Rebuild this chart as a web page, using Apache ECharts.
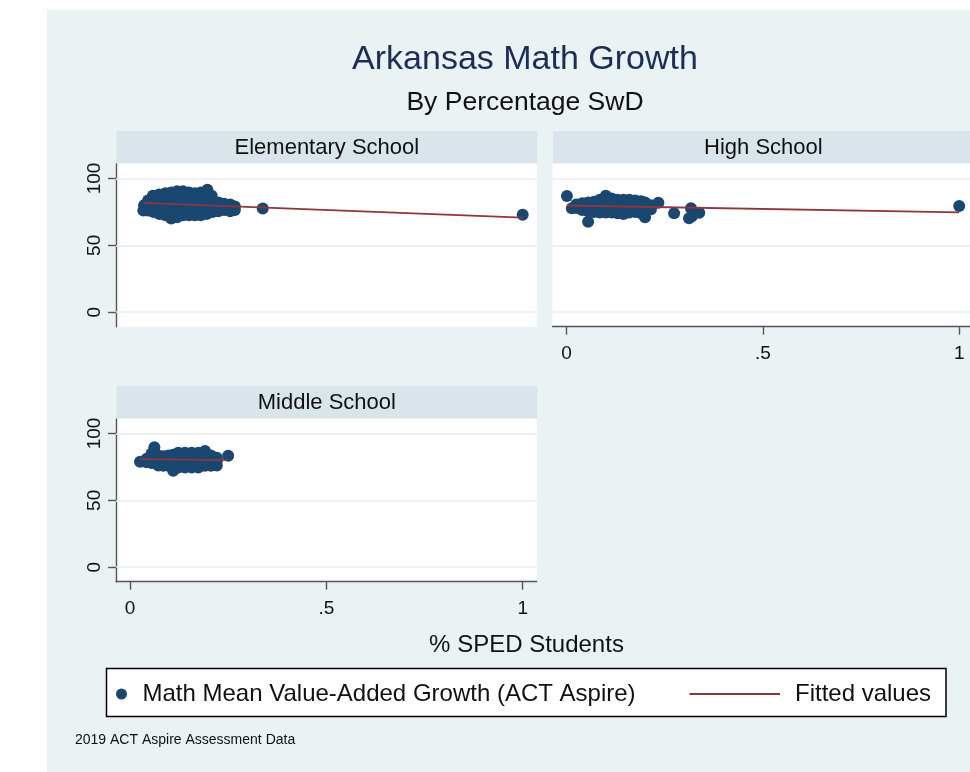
<!DOCTYPE html>
<html>
<head>
<meta charset="utf-8">
<script src="https://cdn.jsdelivr.net/npm/echarts@6/dist/echarts.min.js"></script>
<style>
  html, body { margin: 0; padding: 0; background: #ffffff; }
  #chart { width: 970px; height: 772px; }
</style>
</head>
<body>
<div id="chart"></div>
<script>
// ---- data -------------------------------------------------------------
const panelNames = ['Elementary School', 'High School', 'Middle School'];
const xTicks = [0, 0.5, 1];
const yTicks = [0, 50, 100];
const scatterName = 'Math Mean Value-Added Growth (ACT Aspire)';
const fitName = 'Fitted values';

// [share of SPED students, math mean value-added growth]
const elementaryPoints = [
  [0.034, 76], [0.036, 80],
  [0.045, 76], [0.045, 80], [0.046, 83.5],
  [0.06, 75], [0.06, 79], [0.06, 83], [0.058, 87],
  [0.075, 73.5], [0.075, 78], [0.075, 83], [0.074, 88],
  [0.09, 72.5], [0.09, 77], [0.09, 81], [0.09, 85], [0.09, 89],
  [0.105, 70], [0.105, 74], [0.105, 78], [0.105, 82], [0.105, 86], [0.105, 89.5],
  [0.12, 71], [0.12, 75], [0.12, 79], [0.12, 83], [0.12, 87], [0.12, 90.5],
  [0.135, 72.5], [0.135, 76.5], [0.135, 81], [0.135, 85.5], [0.135, 90.5],
  [0.15, 72.5], [0.15, 76], [0.15, 80], [0.15, 84.5], [0.15, 89.5],
  [0.165, 72.5], [0.165, 77], [0.165, 81], [0.165, 85], [0.165, 89],
  [0.18, 72.5], [0.18, 76.5], [0.18, 80.5], [0.18, 85], [0.18, 89.5],
  [0.195, 73.5], [0.195, 78], [0.195, 82], [0.195, 87], [0.197, 91.5],
  [0.21, 75], [0.21, 79], [0.21, 83], [0.208, 87],
  [0.225, 75.5], [0.225, 79], [0.225, 82],
  [0.24, 76.5], [0.24, 81],
  [0.255, 75.5], [0.255, 80.5],
  [0.267, 76.5], [0.267, 79],
  [0.338, 77.5],
  [1.0, 72.8]
];

const highPoints = [
  [0.001, 86.8], [0.0135, 77.7],
  [0.025, 78], [0.025, 80.5],
  [0.04, 76.5], [0.04, 80], [0.04, 81.5],
  [0.055, 67.7], [0.055, 75.5], [0.055, 79], [0.055, 82],
  [0.07, 75], [0.07, 78.5], [0.07, 82.5],
  [0.085, 74.5], [0.085, 78], [0.085, 81.5], [0.085, 84],
  [0.1, 74.5], [0.1, 78], [0.1, 82], [0.1, 87],
  [0.115, 74.5], [0.115, 78], [0.115, 81.5], [0.115, 85],
  [0.13, 74], [0.13, 77.5], [0.13, 81], [0.13, 84],
  [0.145, 73.5], [0.145, 77], [0.145, 80.5], [0.145, 84],
  [0.16, 74.5], [0.16, 78], [0.16, 81], [0.16, 84],
  [0.175, 75], [0.175, 78.5], [0.175, 83.5],
  [0.19, 74], [0.19, 77.5], [0.19, 83],
  [0.2, 71], [0.2, 78], [0.2, 82],
  [0.215, 77], [0.215, 80],
  [0.234, 81.8],
  [0.274, 74],
  [0.312, 70.2], [0.317, 77.7], [0.32, 72], [0.338, 74.4],
  [1.0, 79.4]
];

const middlePoints = [
  [0.0255, 78.8],
  [0.042, 78.4], [0.042, 81],
  [0.055, 78], [0.055, 82], [0.055, 85],
  [0.062, 89.7],
  [0.072, 76], [0.072, 80], [0.072, 83.5],
  [0.085, 75.8], [0.085, 79.5], [0.085, 83],
  [0.098, 75.8], [0.098, 79.5], [0.098, 83.5],
  [0.11, 72.1], [0.11, 76], [0.11, 80], [0.11, 84],
  [0.123, 74.6], [0.123, 78.5], [0.123, 82.5], [0.123, 85.5],
  [0.14, 74.6], [0.14, 78.5], [0.14, 82], [0.14, 85.5],
  [0.157, 74.6], [0.157, 78], [0.157, 82], [0.157, 85.5],
  [0.174, 74.6], [0.174, 78.5], [0.174, 82.5], [0.174, 85.5],
  [0.191, 75.8], [0.191, 79.5], [0.191, 83], [0.191, 86.8],
  [0.206, 75.8], [0.206, 79.5], [0.206, 83.5],
  [0.221, 76], [0.221, 79.5], [0.221, 81.8],
  [0.25, 83.3]
];

// Linear fit, evaluated at each panel's smallest and largest x
const elementaryFit = [[0.034, 81.8], [1.0, 70.7]];
const highFit = [[0.001, 79.8], [1.0, 74.7]];
const middleFit = [[0.0255, 80.8], [0.25, 80.0]];

// ---- layout & styling ----------------------------------------------------
const FONT = '"Liberation Sans", Arial, Helvetica, sans-serif';
const PW = 420.7, PH = 162.7, STRIP_H = 32;
const X_RANGE = [-0.0357, 1.0357];
const Y_RANGE = [-10.8, 110.8];
const NAVY = '#1A476F', MAROON = '#90353B', AXIS = '#555555';

const panels = [
  { name: panelNames[0], points: elementaryPoints, fit: elementaryFit, left: 116, top: 164, showX: false, showY: true },
  { name: panelNames[1], points: highPoints, fit: highFit, left: 552.5, top: 164, showX: true, showY: false },
  { name: panelNames[2], points: middlePoints, fit: middleFit, left: 116, top: 419, showX: true, showY: true }
];

const fmt = v => (v === 0.5 ? '.5' : String(v));

const grids = [], xAxes = [], yAxes = [], series = [], graphics = [];

graphics.push({
  type: 'rect', z: -100, silent: true,
  shape: { x: 47, y: 10, width: 923, height: 762 },
  style: { fill: '#EAF2F3' }
});

panels.forEach((p, i) => {
  grids.push({
    left: p.left, top: p.top, width: PW, height: PH,
    show: true, backgroundColor: '#ffffff', borderWidth: 0,
    containLabel: false, outerBoundsMode: 'none'
  });
  xAxes.push({
    gridIndex: i, type: 'value', min: X_RANGE[0], max: X_RANGE[1], show: p.showX,
    axisLine: { show: true, onZero: false, lineStyle: { color: AXIS, width: 1.4 } },
    axisTick: { show: true, customValues: xTicks, length: 8, lineStyle: { color: AXIS, width: 1.4 } },
    axisLabel: { customValues: xTicks, formatter: fmt, fontSize: 19, color: '#111', fontFamily: FONT, margin: 18 },
    splitLine: { show: false }
  });
  yAxes.push({
    gridIndex: i, type: 'value', min: Y_RANGE[0], max: Y_RANGE[1], show: p.showY,
    axisLine: { show: true, onZero: false, lineStyle: { color: AXIS, width: 1.4 } },
    axisTick: { show: true, customValues: yTicks, length: 8, lineStyle: { color: AXIS, width: 1.4 } },
    axisLabel: { customValues: yTicks, rotate: 90, fontSize: 19, color: '#111', fontFamily: FONT, margin: 12 },
    splitLine: { show: false }
  });
  series.push({
    type: 'scatter', name: scatterName, xAxisIndex: i, yAxisIndex: i,
    data: p.points, symbol: 'circle', symbolSize: 12,
    itemStyle: { color: NAVY, opacity: 1 }, z: 2,
    markLine: {
      silent: true, z: 1, symbol: ['none', 'none'], label: { show: false },
      lineStyle: { color: '#E6EEF1', width: 1.5, type: 'solid' },
      emphasis: { disabled: true },
      data: yTicks.map(v => ({ yAxis: v }))
    }
  });
  series.push({
    type: 'line', name: fitName, xAxisIndex: i, yAxisIndex: i,
    data: p.fit, symbol: 'none', z: 3,
    itemStyle: { color: MAROON },
    lineStyle: { color: MAROON, width: 1.8 }
  });
  // panel header strip
  graphics.push({
    type: 'rect', z: -50, silent: true,
    shape: { x: p.left + 0.5, y: p.top - STRIP_H - 1, width: PW, height: STRIP_H },
    style: { fill: '#D9E5EA' }
  });
  graphics.push({
    type: 'text', z: -40, silent: true,
    x: p.left + 0.5 + PW / 2, y: p.top - STRIP_H / 2,
    style: { text: p.name, fontSize: 22, fontFamily: FONT, fill: '#111', align: 'center', verticalAlign: 'middle' }
  });
});

// titles, axis title, note, legend frame
graphics.push(
  { type: 'text', silent: true, x: 525, y: 60,
    style: { text: 'Arkansas Math Growth', fontSize: 34, fontFamily: FONT, fill: '#1C2E57', align: 'center', verticalAlign: 'middle' } },
  { type: 'text', silent: true, x: 525, y: 103,
    style: { text: 'By Percentage SwD', fontSize: 26.5, fontFamily: FONT, fill: '#111', align: 'center', verticalAlign: 'middle' } },
  { type: 'text', silent: true, x: 526.5, y: 645,
    style: { text: '% SPED Students', fontSize: 24, fontFamily: FONT, fill: '#111', align: 'center', verticalAlign: 'middle' } },
  { type: 'text', silent: true, x: 75, y: 740,
    style: { text: '2019 ACT Aspire Assessment Data', fontSize: 14, fontFamily: FONT, fill: '#111', align: 'left', verticalAlign: 'middle' } },
  { type: 'rect', silent: true, z: -10,
    shape: { x: 106.5, y: 668.5, width: 839.5, height: 48 },
    style: { fill: '#ffffff', stroke: '#000000', lineWidth: 1.5 } }
);

const option = {
  animation: false,
  backgroundColor: '#ffffff',
  grid: grids,
  xAxis: xAxes,
  yAxis: yAxes,
  series: series,
  legend: [
    {
      data: [scatterName], left: 116, top: 682, padding: 0,
      itemWidth: 32, itemHeight: 11, icon: 'circle', selectedMode: false,
      textStyle: { fontSize: 24, fontFamily: FONT, color: '#111' }
    },
    {
      data: [{ name: fitName, icon: 'rect' }], left: 689.5, top: 682, padding: 0,
      itemWidth: 90.5, itemHeight: 2, selectedMode: false,
      textStyle: { fontSize: 24, fontFamily: FONT, color: '#111', padding: [0, 0, 0, 10] }
    }
  ],
  tooltip: { show: false },
  graphic: graphics
};

const chart = echarts.init(document.getElementById('chart'), null, { renderer: 'canvas' });
chart.setOption(option);
</script>
</body>
</html>
